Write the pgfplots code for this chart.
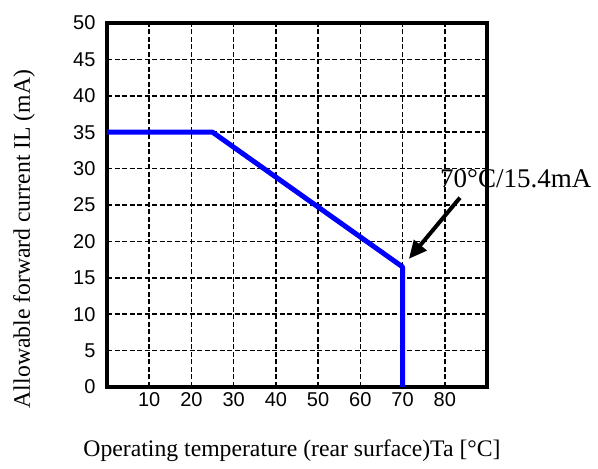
\documentclass[border=0pt]{standalone}
\usepackage{fontspec}
\setmainfont{Liberation Serif}
\newfontfamily\tickfont{Liberation Sans}
\usepackage{pgfplots}
\pgfplotsset{compat=1.18}
\usetikzlibrary{arrows.meta}
\begin{document}
\begin{tikzpicture}[x=1pt,y=1pt]
\path[use as bounding box] (0,0) rectangle (598,469);
\begin{axis}[
 at={(107pt,82pt)}, anchor=south west,
 scale only axis, width=380pt, height=364pt,
 xmin=0, xmax=90, ymin=0, ymax=50,
 xtick={10,20,...,80}, ytick={0,5,...,50},
 grid=major,
 major grid style={black, line width=1.5pt, dash pattern=on 5pt off 2.5pt},
 axis line style={line width=3.5pt, line cap=rect},
 tick style={draw=none},
 ticklabel style={font=\tickfont\fontsize{20}{20}\selectfont},
 /pgf/number format/assume math mode=true,
 xticklabel style={yshift=-2pt},
 yticklabel style={xshift=-8pt},
 clip=false,
]
\addplot[color={rgb,255:red,0;green,0;blue,255}, line width=5pt, line join=round] coordinates {(0,35) (25,35) (70,16.5) (70,0)};
\draw[line width=4pt, -{Triangle[length=18pt,width=16pt]}] (axis cs:83.6,26) -- (axis cs:71.5,17.6);
\end{axis}
\node[anchor=base west, inner sep=0, font=\fontsize{27}{27}\selectfont] at (440,281) {70°C/15.4mA};
\node[rotate=90, inner sep=0, font=\fontsize{23.7}{24}\selectfont] at (24,230) {Allowable forward current IL (mA)};
\node[inner sep=0, font=\fontsize{23.7}{24}\selectfont] at (292,18) {Operating temperature (rear surface)Ta [°C]};
\end{tikzpicture}
\end{document}
